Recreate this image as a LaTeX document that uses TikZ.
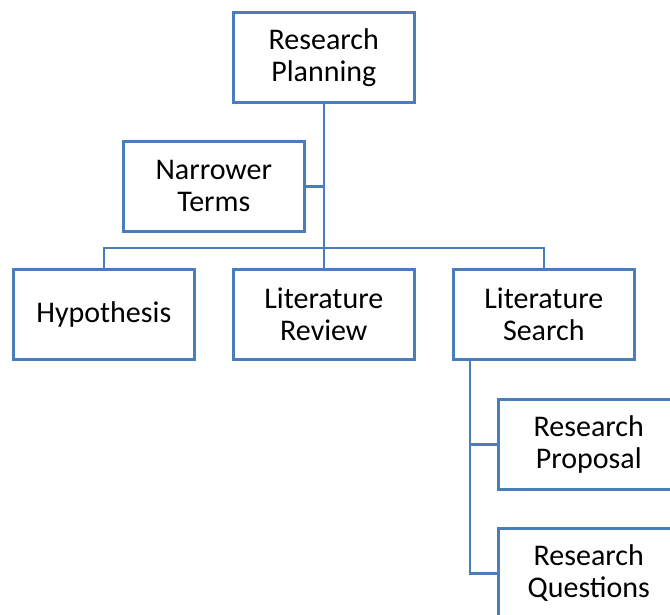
\documentclass[tikz,border=0pt]{standalone}
\usepackage{fontspec}
\setmainfont{Carlito}
\definecolor{linkblue}{RGB}{74,126,187}
\begin{document}
\begin{tikzpicture}[x=1pt,y=-1pt,
  box/.style={draw=linkblue,line width=2.6pt,fill=white,minimum width=181pt,minimum height=90pt,
    align=center,inner sep=0pt,font=\fontsize{30}{32}\selectfont,anchor=north west},
  link/.style={draw=linkblue,line width=2.6pt}]
\useasboundingbox (0,0) rectangle (670,614);
\clip (0,0) rectangle (670,614);
% boxes of the hierarchy
\coordinate (bus) at (322,248);
\node[box] (plan) at (232,11) {Research\\Planning};
\node[box] (narrow) at (122,140) {Narrower\\Terms};
\node[box] (hyp) at (12,268) {Hypothesis};
\node[box] (review) at (232,268) {Literature\\Review};
\node[box] (search) at (452,268) {Literature\\Search};
\node[box] (proposal) at (497,398) {Research\\Proposal};
\node[box] (questions) at (497,527) {Research\\Questions};
\coordinate (trunk) at (470,359);
% tree connectors
\draw[link] (plan.south) -- (review.north);
\draw[link] (narrow.east) -- (narrow.east -| plan.south);
\draw[link] (hyp.north) |- (bus) -| (search.north);
\draw[link] (trunk) |- (questions.west);
\draw[link] (trunk) |- (proposal.west);
\end{tikzpicture}
\end{document}
